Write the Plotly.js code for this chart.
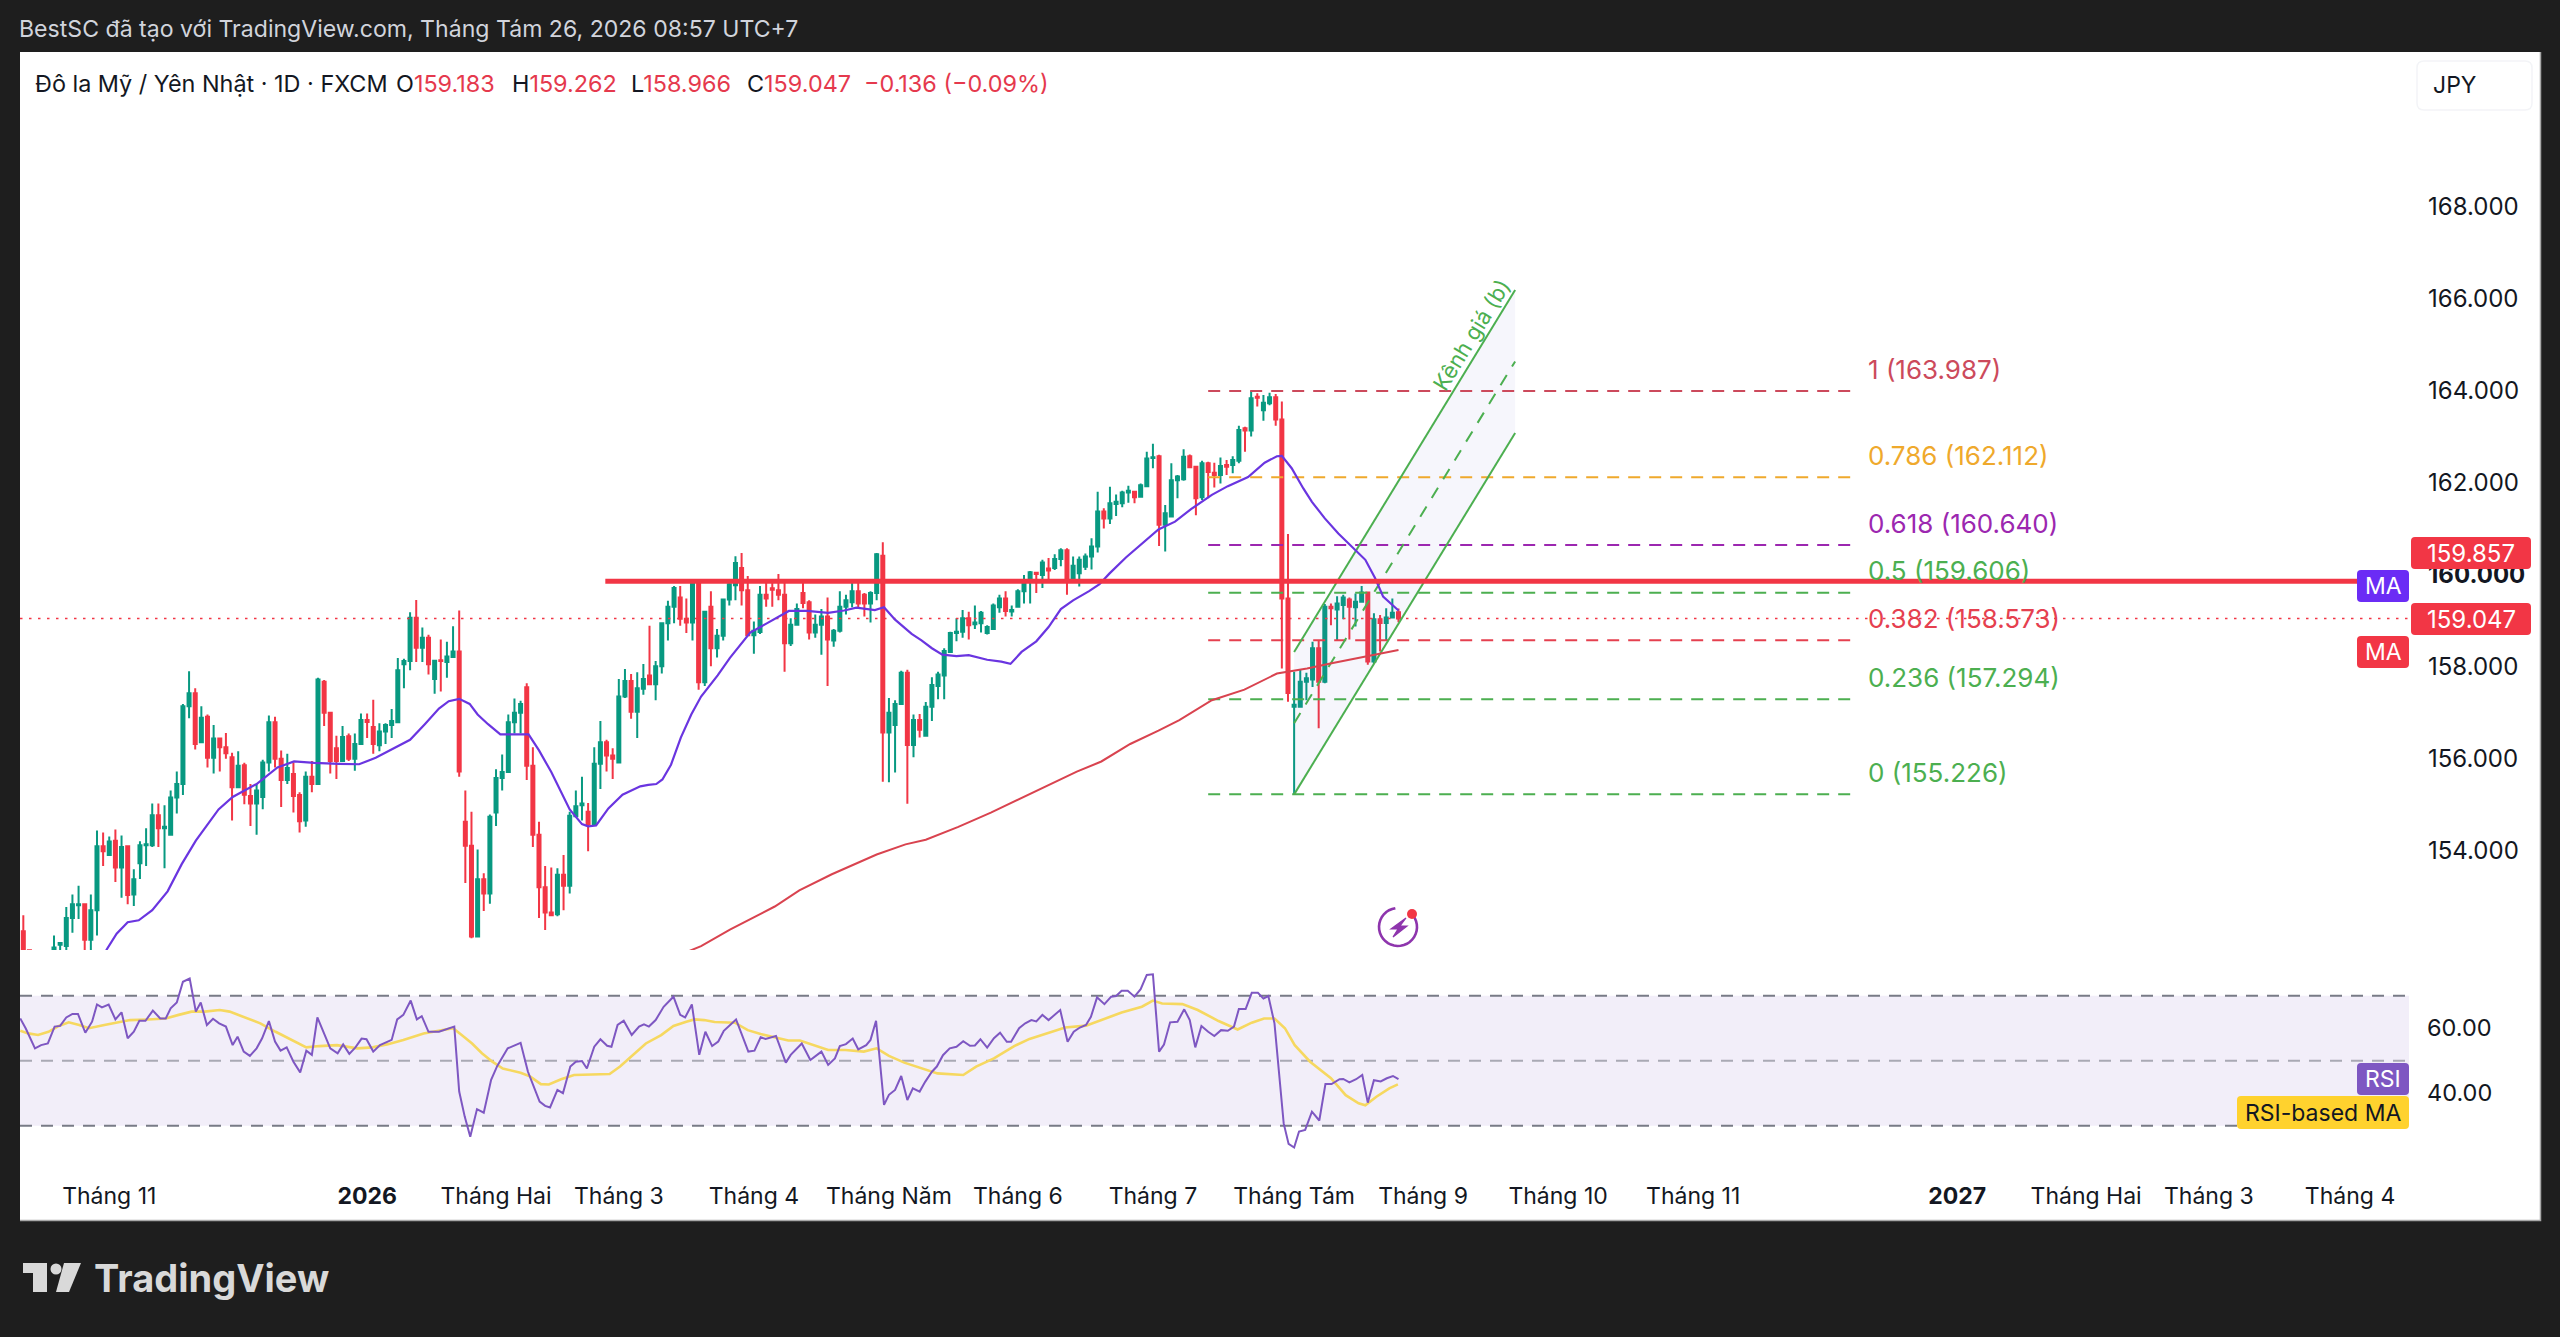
<!DOCTYPE html>
<html><head><meta charset="utf-8">
<style>html,body{margin:0;padding:0;background:#1e1e1e;overflow:hidden}#c{width:2560px;height:1337px}</style>
<script src="https://cdn.plot.ly/plotly-3.0.1.min.js"></script></head><body><div id="c"></div>
<script>
const opens=[152.25,151.84,151.5,151.2,151.4,151.8,151.96,151.93,152.54,152.82,
152.84,152.07,152.71,154.10,153.91,154.22,153.64,154.10,153.05,153.73,
154.12,154.12,154.77,154.49,154.35,155.16,155.45,157.14,157.42,156.36,
156.91,156.02,156.44,156.25,156.03,155.38,155.86,155.19,155.03,155.17,
155.92,156.79,156.00,155.54,155.67,155.21,154.66,155.61,155.45,157.67,
157.00,156.23,155.95,156.49,156.00,156.32,156.84,156.69,156.29,156.59,
156.73,156.79,158.05,158.12,159.06,158.41,158.63,157.73,158.14,158.10,
158.21,158.33,154.63,154.11,152.14,153.38,153.07,154.83,155.58,155.71,
156.79,157.00,157.55,155.85,154.35,153.21,152.66,152.62,153.48,153.24,
154.75,154.99,154.85,154.58,155.89,156.36,156.07,155.92,157.35,157.69,
157.02,157.52,157.81,157.62,158.01,158.94,159.30,159.50,159.04,158.96,
159.83,157.66,159.30,158.40,158.67,159.46,159.77,160.14,159.66,158.68,
158.75,159.56,159.70,159.66,159.56,158.51,158.91,159.60,159.40,158.74,
158.91,159.09,158.57,158.78,159.30,159.40,159.64,159.56,159.37,159.60,
160.41,156.57,156.73,157.19,157.87,156.30,156.84,156.50,157.13,157.58,
157.81,158.32,158.73,158.76,159.05,158.92,158.94,158.73,158.82,159.29,
159.48,159.20,159.30,159.64,159.87,160.04,159.99,160.13,160.14,160.34,
160.53,159.87,160.03,160.17,160.39,160.61,161.37,161.22,161.53,161.55,
161.78,161.80,161.69,161.92,162.53,162.57,161.08,161.26,162.05,162.07,
162.57,162.34,161.68,162.42,162.21,162.16,162.38,162.38,162.47,163.18,
163.13,163.86,163.57,163.72,163.85,163.37,159.48,157.13,157.13,157.67,
157.72,158.40,157.67,159.30,159.24,159.34,159.46,159.29,159.41,159.61,
158.11,159.03,158.95,159.07,159.183];
const highs=[152.60,151.85,151.7,151.6,151.7,152.16,152.02,152.78,153.05,153.24,
152.86,153.05,154.44,154.40,154.31,154.46,154.33,154.11,153.60,154.21,
154.49,155.03,155.03,154.99,155.31,155.72,157.19,157.90,157.53,157.14,
156.96,156.73,156.45,156.56,156.13,156.16,155.91,155.45,155.45,155.98,
156.94,156.91,156.18,156.11,155.92,155.27,155.72,155.95,157.76,157.71,
157.02,156.50,156.71,156.55,156.55,156.98,156.98,157.28,156.77,156.77,
157.08,158.19,158.17,159.18,159.45,158.85,158.69,158.15,158.59,158.54,
158.88,159.22,155.31,154.85,154.03,153.51,154.79,155.77,156.09,156.96,
157.31,157.26,157.64,156.25,154.63,153.67,153.64,153.62,153.91,154.85,
155.31,155.61,155.04,156.25,156.82,156.41,156.23,157.73,157.95,157.84,
157.88,158.06,158.89,158.12,158.96,159.43,159.75,159.75,159.48,159.87,
159.87,159.21,159.64,158.82,159.48,159.87,160.40,160.47,159.97,158.98,
159.75,159.83,159.87,160.01,159.83,159.05,159.37,159.83,159.44,159.13,
159.25,159.50,158.82,159.64,159.56,159.85,159.83,159.60,159.64,160.47,
160.70,157.32,157.27,157.91,157.93,156.96,156.97,157.23,157.77,157.89,
158.40,158.76,159.05,159.23,159.19,159.33,159.21,158.90,159.37,159.56,
159.64,159.33,159.68,159.99,160.08,160.06,160.32,160.36,160.44,160.57,
160.57,160.39,160.39,160.46,160.79,161.80,161.44,161.91,161.74,161.82,
161.93,161.82,161.98,162.67,162.84,162.60,161.51,162.42,162.16,162.72,
162.61,162.36,162.47,162.45,162.43,162.54,162.49,162.57,163.23,163.21,
163.99,163.94,163.90,163.95,163.92,163.76,160.88,157.89,157.94,157.87,
158.54,158.58,159.36,159.37,159.53,159.56,159.50,159.59,159.75,159.63,
159.16,159.12,159.27,159.48,159.262];
const lows=[151.6,151.5,151.0,150.9,151.1,151.7,151.84,151.81,152.22,152.52,
151.81,151.81,152.16,153.67,153.90,153.32,152.98,152.84,152.80,153.39,
153.67,154.08,154.08,153.62,154.35,154.81,155.21,156.88,156.20,156.36,
155.81,155.68,155.72,156.00,154.66,155.38,155.01,154.54,154.35,154.90,
155.72,155.81,154.95,155.45,154.83,154.40,154.52,155.27,155.45,156.71,
155.68,155.56,155.95,155.95,155.74,156.32,156.45,156.11,156.16,156.32,
156.45,156.79,157.53,157.92,158.10,158.10,157.83,157.41,157.46,157.76,
158.19,155.61,153.30,152.10,152.14,152.69,152.85,154.54,155.31,155.71,
156.55,156.55,155.54,154.08,152.54,152.28,152.58,152.58,152.71,153.07,
154.75,154.66,153.99,154.54,155.34,155.72,155.56,155.92,157.32,156.87,
156.45,157.39,157.62,157.27,157.85,158.57,158.94,158.89,158.73,158.57,
157.50,157.58,158.01,158.20,158.57,159.33,159.44,159.33,158.67,158.28,
158.71,159.30,159.30,159.44,157.89,158.45,158.90,159.27,158.59,158.63,
158.26,157.58,158.43,158.74,159.13,159.29,159.29,159.09,158.96,159.44,
155.50,155.49,155.70,157.19,155.02,156.03,156.46,156.50,156.82,157.29,
157.29,158.32,158.55,158.63,158.59,158.82,158.74,158.70,158.81,159.17,
159.09,159.09,159.29,159.37,159.37,159.60,159.71,159.87,160.10,160.18,
159.56,159.85,159.74,160.10,160.11,160.48,161.00,161.10,161.27,161.46,
161.56,161.55,161.69,161.91,162.31,160.62,160.50,161.24,161.66,162.04,
162.31,161.29,161.62,161.66,161.89,161.98,162.16,162.20,162.42,162.67,
163.00,163.65,163.34,163.68,163.23,157.96,157.24,155.23,157.13,157.27,
157.56,156.66,157.64,158.90,158.58,159.03,158.59,158.87,159.39,158.04,
158.06,158.33,158.58,159.05,158.966];
const closes=[151.7,151.78,151.2,151.4,151.6,151.90,152.00,152.54,152.84,152.84,
152.07,152.71,154.10,153.99,154.20,153.64,154.08,153.04,153.38,154.12,
154.14,154.77,154.49,154.52,155.16,155.45,157.14,157.42,156.32,156.89,
156.02,156.44,156.25,156.12,155.38,155.85,155.22,155.03,155.31,155.92,
156.79,156.00,155.54,155.80,155.19,154.64,155.61,155.45,157.72,157.00,
155.95,155.95,156.47,156.00,156.32,156.84,156.80,156.32,156.59,156.73,
156.82,157.92,158.12,159.06,158.41,158.63,158.05,158.13,158.12,158.22,
158.33,155.72,154.11,152.14,153.38,153.07,154.74,155.58,155.71,156.79,
157.00,157.19,155.85,154.35,153.21,152.66,152.60,153.48,153.24,154.76,
154.97,155.03,154.58,155.89,156.36,156.07,156.00,157.35,157.69,157.02,
157.53,157.73,157.62,158.01,158.94,159.30,159.71,159.04,158.96,159.83,
157.66,159.19,158.40,158.67,159.46,159.79,160.25,159.66,158.68,158.78,
159.56,159.48,159.67,159.56,158.51,158.91,159.25,159.38,158.74,158.91,
159.09,158.59,158.78,159.30,159.44,159.64,159.37,159.37,159.60,160.44,
156.57,157.00,157.19,157.87,156.30,156.84,156.63,157.13,157.60,157.83,
158.34,158.73,158.76,159.05,158.90,158.96,159.17,158.86,159.33,159.48,
159.21,159.23,159.64,159.87,160.05,160.01,160.26,160.09,160.34,160.53,
159.87,160.19,160.32,160.39,160.61,161.37,161.22,161.55,161.58,161.78,
161.82,161.68,161.94,162.52,162.55,161.08,161.33,162.05,162.13,162.56,
162.33,161.66,162.42,162.23,162.16,162.36,162.34,162.49,163.14,163.13,
163.83,163.84,163.73,163.85,163.37,159.48,157.43,157.17,157.67,157.75,
158.40,157.67,159.30,159.27,159.37,159.50,159.30,159.41,159.61,158.11,
159.03,158.95,159.07,159.17,159.047];

const maBars=[13.5,15.2,17,18.8,21,23.5,25.8,28.1,31.8,34.1,38,41.4,44.1,47.4,51.4,54.7,57.4,60,63,65.4,67.7,69.3,71,72.7,74,75.7,77.7,82.3,84,86,89,91,92,93.3,95.3,97.6,100.5,101.8,103.1,104.1,105.5,107.1,108.8,110.4,113.1,115.1,116.8,118.4,121.1,123.8,124.7,127.7,131.1,133.7,135.7,138.7,140.2,142,144.7,146.3,148,149.7,152,154,157,159.3,160.8,162.6,165,167,169,171,173.6,175.3,176.9,179.6,182.9,184.9,187.6,190.2,193.6,196.2,199.5,202.2,204.2,205,206.6,208.5,209.9,212,214.2,217.2,218.6,220.2,221.5,224];
const maVals=[151.84,152.20,152.45,152.49,152.71,153.12,153.71,154.22,154.90,155.17,155.45,155.81,155.94,155.91,155.89,155.88,156.02,156.20,156.41,156.75,157.09,157.25,157.30,157.19,156.96,156.75,156.53,156.53,156.18,155.71,154.90,154.58,154.53,154.55,154.92,155.22,155.40,155.43,155.45,155.55,155.87,156.46,156.96,157.35,157.81,158.19,158.47,158.74,158.94,159.13,159.21,159.21,159.17,159.22,159.28,159.23,159.29,159.02,158.71,158.57,158.40,158.26,158.23,158.25,158.15,158.11,158.06,158.32,158.55,158.86,159.25,159.44,159.64,159.79,160.02,160.37,160.76,160.98,161.15,161.42,161.73,161.92,162.12,162.43,162.57,162.58,162.31,161.87,161.58,161.22,160.89,160.50,160.32,159.92,159.52,159.22];
const ma200Bars=[108.4,110.4,115.1,120.4,122.4,126.4,131.7,139,143.7,147,152.3,157.6,163.6,169,171.6,175.6,180.3,184.9,188.3,193.6,198.9,204.2,206.1,209.1,212.9,218.8,224];
const ma200Vals=[151.82,151.93,152.29,152.65,152.79,153.14,153.49,153.92,154.14,154.24,154.52,154.83,155.21,155.55,155.72,155.94,156.32,156.61,156.84,157.27,157.50,157.85,157.89,157.96,158.07,158.23,158.36];

const rsiBars=[-0.5,0.4,1.9,2.9,4.0,5.1,6.0,7.0,8.0,8.9,10.1,11.2,12.0,12.8,13.9,15.0,16.0,17.0,18.0,18.9,19.9,21.1,22.3,23.2,24.0,25.0,26.0,27.1,28.1,28.9,29.9,30.9,31.9,33.0,34.1,34.9,35.9,36.9,38.0,38.9,40.0,41.0,41.9,42.9,44.0,45.1,46.1,47.0,47.9,48.8,50.0,51.2,52.1,53.1,54.1,55.1,55.9,57.0,58.1,60.0,60.9,61.9,63.1,64.1,64.9,66.0,67.7,70.2,71.0,71.9,72.8,73.9,75.0,76.2,77.2,78.9,80.0,81.0,82.2,83.2,84.1,85.0,85.8,87.0,87.9,89.1,90.0,91.0,91.8,93.0,94.0,95.1,95.8,96.8,97.8,99.1,100.3,101.1,101.9,103.0,104.3,105.9,107.0,107.8,108.9,110.1,111.1,112.2,113.2,114.1,116.1,118.1,119.1,120.1,120.9,122.6,124.2,125.0,126.8,128.2,130,131.1,132.2,133,134,135.1,136,137.3,138,138.9,140.2,141,142,143,144,144.9,146,146.9,148,148.8,149.8,150.9,152,153.1,154.2,155,155.9,157,158.1,159.1,160.2,160.9,162.2,163.2,164.2,165,166,167,168.9,170.1,171.1,172.1,173.1,173.9,174.9,176.1,177.2,178,178.9,179.9,181,182,183,184,185,185.8,186.8,188,189.1,190,190.9,191.9,193,194,195.1,196.2,197.2,198,199.1,200.1,201.1,202,202.8,203.8,205.3,206.1,207,207.8,208.8,209.9,211.1,212.1,213.1,214.4,215,216,217.1,218.1,219,220,221.1,222.1,223.1,224];
const rsiVals=[63.0,59.9,53.8,54.8,55.3,60.5,60.7,63.3,64.4,64.4,58.6,62.0,67.3,66.4,67.3,62.7,64.9,56.9,58.9,62.3,62.3,65.4,63.0,63.0,66.1,67.9,74.3,75.3,65.1,67.9,61.0,62.9,61.5,60.5,54.8,57.4,52.8,51.5,53.8,56.9,62.2,55.9,53.1,54.1,49.7,46.4,53.1,51.8,63.3,59.4,53.8,52.3,55.0,52.1,54.1,56.8,56.6,52.8,54.8,56.4,62.7,64.1,68.5,62.7,63.7,58.9,58.9,60.5,40.5,32.8,26.6,35.1,34.0,44.1,48.4,53.8,54.8,55.5,46.6,41.5,37.4,36.1,35.6,41.0,40.0,48.2,49.7,49.9,47.6,54.3,56.6,54.6,54.3,61.0,62.3,57.9,60.5,61.2,60.5,62.5,66.6,69.7,64.1,63.3,67.3,51.8,58.9,54.5,55.9,59.2,62.7,52.8,53.1,57.2,56.7,57.6,49.4,51.8,55.3,50.2,52.8,48.7,50.7,54.5,55.1,56.8,53.5,54.8,56.4,62.3,36.4,39.5,41.0,45.3,37.9,41.5,40.5,43.5,46.6,48.2,51.7,53.8,54.3,56.0,54.6,54.7,56.6,54.0,56.9,58.6,55.8,55.8,60.0,61.5,62.5,62.1,64.1,62.5,65.6,55.8,58.9,60.2,61.0,63.5,69.5,67.4,69.7,69.9,71.5,71.5,69.7,72.0,76.4,76.6,52.8,55.0,61.8,62.0,65.8,62.5,54.1,60.7,58.9,57.6,59.4,59.2,60.5,65.9,65.9,70.9,70.9,69.1,69.9,61.5,30.7,24.4,23.3,28.2,28.7,34.3,31.6,42.8,42.8,44.3,44.4,43.3,44.3,45.6,37.1,44.0,43.6,44.6,45.3,44.3];
const rsiMaBars=[-0.5,0.8,2.4,4.1,5.8,7.4,9.1,10.7,13.2,15.7,17.4,20.3,23.2,25.3,27.4,29.5,32,33.6,36.1,38.6,41.1,43.6,46.1,48.2,51.1,54.4,56.9,59.4,61.9,65.2,67.7,70,71.4,73.1,74.7,76.4,78.1,81,82.6,84.3,85.6,87.6,89.7,92.6,95.5,97.2,99.3,101.4,103.9,105.9,108,109.3,110.9,112.6,115.9,118,120.1,122.6,124.6,126.5,128.6,131.1,133.9,136.9,139,141,143.5,146.5,148.9,153.1,155.2,158.1,161.4,163.9,167.2,169.7,173.1,175.5,178.9,182.2,184,185.5,188.8,191.3,194.7,197.8,200.1,202.1,203.8,205.5,207.1,209.6,213,215.4,217.5,218.6,220.4,222.5,223.9];
const rsiMaVals=[59.2,58.4,57.9,58.9,60.7,61.8,61.0,60.0,61.0,62.0,62.5,62.7,63.0,64.1,65.1,65.1,65.6,65.1,63.3,61.5,58.9,56.4,54.1,54.5,54.8,53.8,54.1,55.1,56.4,58.4,59.2,60.0,57.9,55.3,52.3,49.7,47.6,46.3,45.1,42.8,42.7,44.3,45.6,45.8,45.9,48.2,51.7,55.3,57.9,60.7,62.0,62.7,62.5,61.9,61.7,59.4,58.2,57.2,56.2,56.2,54.8,53.3,53.3,52.8,53.8,51.5,49.4,47.6,46.1,45.6,48.2,50.7,54.5,56.7,58.6,60.2,60.8,62.5,64.8,66.6,68.5,67.6,67.4,65.6,62.2,59.6,61.7,63.0,63.0,60.0,54.8,49.7,44.6,39.4,36.9,36.3,38.9,41.5,42.7];

const fibLevels=[1,0.786,0.618,0.5,0.382,0.236,0];
const fibPrices=[163.987,162.112,160.640,159.606,158.573,157.294,155.226];
const fibColors=['#cc4a5c','#efa92c','#9c27b0','#4caf50','#e5404f','#4caf50','#4caf50'];
const fibBars=[193,298];
const channelBars=[207,243];
const channelUpper=[158.32,166.18];
const channelLower=[155.226,163.075];
const channelMid=[156.77,164.63];
const lastPrice=159.047, levelPrice=159.857, levelBars=[94.8,388.6];
const xRange=[-0.54,388.6];
const tickBars=[14,56,77,97,119,141,162,184,207,228,250,272,315,336,356,379];
const tickTexts=['Tháng 11','<b>2026</b>','Tháng Hai','Tháng 3','Tháng 4','Tháng Năm','Tháng 6','Tháng 7','Tháng Tám','Tháng 9','Tháng 10','Tháng 11','<b>2027</b>','Tháng Hai','Tháng 3','Tháng 4'];
const priceTicks=[154,156,158,160,162,164,166,168];
const priceTickTexts=['154.000','156.000','158.000','<b>160.000</b>','162.000','164.000','166.000','168.000'];

const FONT='Inter, "Open Sans", sans-serif';
const RED='#f23645', GREEN='#089981', INK='#131722';
const PW=2520, PH=1168;
const px=x=>(x-20)/PW, py=y=>(1220-y)/PH;
const bars=opens.map((_,i)=>i);

function line(x,y,color,width,dash,yaxis){return {type:'scatter',mode:'lines',x,y,xaxis:'x',yaxis:yaxis||'y',hoverinfo:'skip',showlegend:false,line:{color,width,dash:dash||'solid'}};}

const traces=[
 {type:'candlestick',x:bars,open:opens,high:highs,low:lows,close:closes,xaxis:'x',yaxis:'y',width:0.6,whiskerwidth:0,showlegend:false,hoverinfo:'skip',
  increasing:{line:{color:GREEN,width:2},fillcolor:GREEN},decreasing:{line:{color:RED,width:2},fillcolor:RED}},
 {type:'scatter',mode:'none',x:[channelBars[0],channelBars[1],channelBars[1],channelBars[0]],y:[channelLower[0],channelLower[1],channelUpper[1],channelUpper[0]],fill:'toself',fillcolor:'rgba(110,110,200,0.06)',hoverinfo:'skip',showlegend:false},
 line(xRange,[lastPrice,lastPrice],RED,1.6,'2.5px,6.5px'),
];
fibPrices.forEach((p,i)=>traces.push(line(fibBars,[p,p],fibColors[i],2,'12px,9px')));
traces.push(line(channelBars,channelUpper,'#4caf50',2));
traces.push(line(channelBars,channelLower,'#4caf50',2));
traces.push(line(channelBars,channelMid,'#4caf50',2,'12px,10px'));
traces.push(line(ma200Bars,ma200Vals,'#d9434f',2));
traces.push(line(maBars,maVals,'#6a35e0',2.2));
traces.push(line(levelBars,[levelPrice,levelPrice],RED,5));
traces.push(line(rsiMaBars,rsiMaVals,'#f6d860',2.6,null,'y2'));
traces.push(line(rsiBars,rsiVals,'#7e57c2',2,null,'y2'));

function rr(x0,y0,x1,y1,r){const X=px,Y=py;return `M${X(x0+r)},${Y(y0)} L${X(x1-r)},${Y(y0)} Q${X(x1)},${Y(y0)} ${X(x1)},${Y(y0+r)} L${X(x1)},${Y(y1-r)} Q${X(x1)},${Y(y1)} ${X(x1-r)},${Y(y1)} L${X(x0+r)},${Y(y1)} Q${X(x0)},${Y(y1)} ${X(x0)},${Y(y1-r)} L${X(x0)},${Y(y0+r)} Q${X(x0)},${Y(y0)} ${X(x0+r)},${Y(y0)} Z`;}
function poly(pts){return 'M'+pts.map(p=>px(p[0])+','+py(p[1])).join(' L')+' Z';}
function pathShape(d,fill,lineColor,lw,layer){return {type:'path',xref:'paper',yref:'paper',path:d,fillcolor:fill||'rgba(0,0,0,0)',line:{color:lineColor||'rgba(0,0,0,0)',width:lw||0},layer:layer||'above'};}
function circle(cx,cy,r,fill){return {type:'circle',xref:'paper',yref:'paper',x0:px(cx-r),x1:px(cx+r),y0:py(cy+r),y1:py(cy-r),fillcolor:fill,line:{width:0},layer:'above'};}

const shapes=[
 {type:'rect',xref:'paper',yref:'paper',x0:0,x1:1,y0:0,y1:1,fillcolor:'#ffffff',line:{width:0},layer:'below'},
 {type:'rect',xref:'x',yref:'y2',x0:xRange[0],x1:xRange[1],y0:30,y1:70,fillcolor:'rgba(126,87,194,0.10)',line:{width:0},layer:'below'},
 {type:'line',xref:'x',yref:'y2',x0:xRange[0],x1:xRange[1],y0:70,y1:70,line:{color:'#787b86',width:2,dash:'12px,9px'},layer:'below'},
 {type:'line',xref:'x',yref:'y2',x0:xRange[0],x1:xRange[1],y0:50,y1:50,line:{color:'rgba(120,123,134,0.6)',width:2,dash:'12px,9px'},layer:'below'},
 {type:'line',xref:'x',yref:'y2',x0:xRange[0],x1:xRange[1],y0:30,y1:30,line:{color:'#787b86',width:2,dash:'12px,9px'},layer:'below'},
 pathShape('M'+px(2540.5)+','+py(52)+' L'+px(2540.5)+','+py(1220.5)+' L'+px(20)+','+py(1220.5),null,'#a8a8a8',1.5),
 pathShape(rr(2417,61,2532,110,7),null,'#f3f4f7',1.5),
];

const tags=[
 [2411,537,2531,569,RED,'159.857','#ffffff',2471,24],
 [2357,570,2409,602,'#6b2cf5','MA','#ffffff',2383,23],
 [2411,603,2531,635,RED,'159.047','#ffffff',2471,24],
 [2357,636,2409,668,RED,'MA','#ffffff',2383,23],
 [2357,1063,2409,1095,'#7e57c2','RSI','#ffffff',2383,23],
 [2237,1096,2409,1129,'#ffd22e','RSI-based MA','#131722',2323,23],
];
const ann=[];
function note(x,y,text,color,size,anchor,extra){ann.push(Object.assign({xref:'paper',yref:'paper',x:px(x),y:py(y),text,showarrow:false,xanchor:anchor||'left',yanchor:'middle',font:{family:FONT,size:size,color:color}},extra||{}));}
tags.forEach(t=>{shapes.push(pathShape(rr(t[0],t[1],t[2],t[3],4),t[4]));note(t[7],(t[1]+t[3])/2,t[5],t[6],t[8],'center');});

note(17,29,'BestSC đã tạo với TradingView.com, Tháng Tám 26, 2026 08:57 UTC+7','#d1d4dc',23.1);
note(33,83,'Đô la Mỹ / Yên Nhật · 1D · FXCM',INK,23.4);
[[394,'O','159.183'],[510,'H','159.262'],[629,'L','158.966'],[745,'C','159.047']].forEach(o=>{
 note(o[0],83,`<span style="color:${INK}">${o[1]}</span><span style="color:#e5394d">${o[2]}</span>`,INK,23.4);
});
note(862,83,'−0.136 (−0.09%)','#e5394d',23.4);
note(2431,85,'JPY',INK,23);
note(92,1278,'<b>TradingView</b>','#d9d9d9',38);

fibLevels.forEach((l,i)=>ann.push({xref:'x',yref:'y',x:(1866-23.3)/6.138,y:fibPrices[i],yshift:22,text:l+' ('+fibPrices[i].toFixed(3)+')',showarrow:false,xanchor:'left',yanchor:'middle',font:{family:FONT,size:26,color:fibColors[i]}}));
ann.push({xref:'x',yref:'y',x:235.9,y:165.2,text:'Kênh giá (b)',textangle:-58.5,showarrow:false,font:{family:FONT,size:22,color:'#4caf50'}});

// TradingView logo
shapes.push(pathShape(poly([[23,1263],[47,1263],[47,1292],[33,1292],[33,1273],[23,1273]]),'#d9d9d9'));
shapes.push(circle(56,1269,5.5,'#d9d9d9'));
shapes.push(pathShape(poly([[64,1263],[81,1263],[69,1292],[56,1292]]),'#d9d9d9'));
// alert icon
const arc=[];for(let a=-38;a<=262;a+=10){const t=a*Math.PI/180;arc.push(px(1398+19*Math.cos(t))+','+py(927+19*Math.sin(t)));}
shapes.push({type:'path',xref:'paper',yref:'paper',path:'M'+arc.join(' L'),line:{color:'#8e35ad',width:2.6},layer:'above'});
shapes.push(pathShape(poly([[1406,918],[1391,929],[1398,929],[1393,937],[1407,926],[1400,926]]),'#8e35ad','#8e35ad',1.2));
shapes.push(circle(1412,914,5,'#f23645'));

const tickFont={family:FONT,size:23,color:INK};
const layout={
 width:2560,height:1337,margin:{l:20,r:20,t:52,b:117,pad:0},
 paper_bgcolor:'#1e1e1e',plot_bgcolor:'rgba(0,0,0,0)',showlegend:false,dragmode:false,hovermode:false,
 xaxis:{type:'linear',domain:[0,(2409-20)/PW],range:xRange,anchor:'y2',showgrid:false,zeroline:false,showline:false,ticks:'',
  tickmode:'array',tickvals:tickBars,ticktext:tickTexts,tickfont:tickFont,ticklabelstandoff:8,rangeslider:{visible:false},fixedrange:true},
 yaxis:{domain:[py(950),1],range:[163.987-(950-391)/46.04,163.987+(391-52)/46.04],side:'right',anchor:'x',showgrid:false,zeroline:false,showline:false,ticks:'',
  tickmode:'array',tickvals:priceTicks,ticktext:priceTickTexts,tickfont:{family:FONT,size:24,color:INK},ticklabelstandoff:18,fixedrange:true},
 yaxis2:{domain:[py(1172),py(955)],range:[70-(1172-995.7)/3.25,70+(995.7-955)/3.25],side:'right',anchor:'x',showgrid:false,zeroline:false,showline:false,ticks:'',
  tickmode:'array',tickvals:[40,60],ticktext:['40.00','60.00'],tickfont:{family:FONT,size:23.5,color:INK},ticklabelstandoff:17,fixedrange:true},
 shapes,annotations:ann
};
Plotly.newPlot('c',traces,layout,{displayModeBar:false,staticPlot:true});
</script></body></html>
